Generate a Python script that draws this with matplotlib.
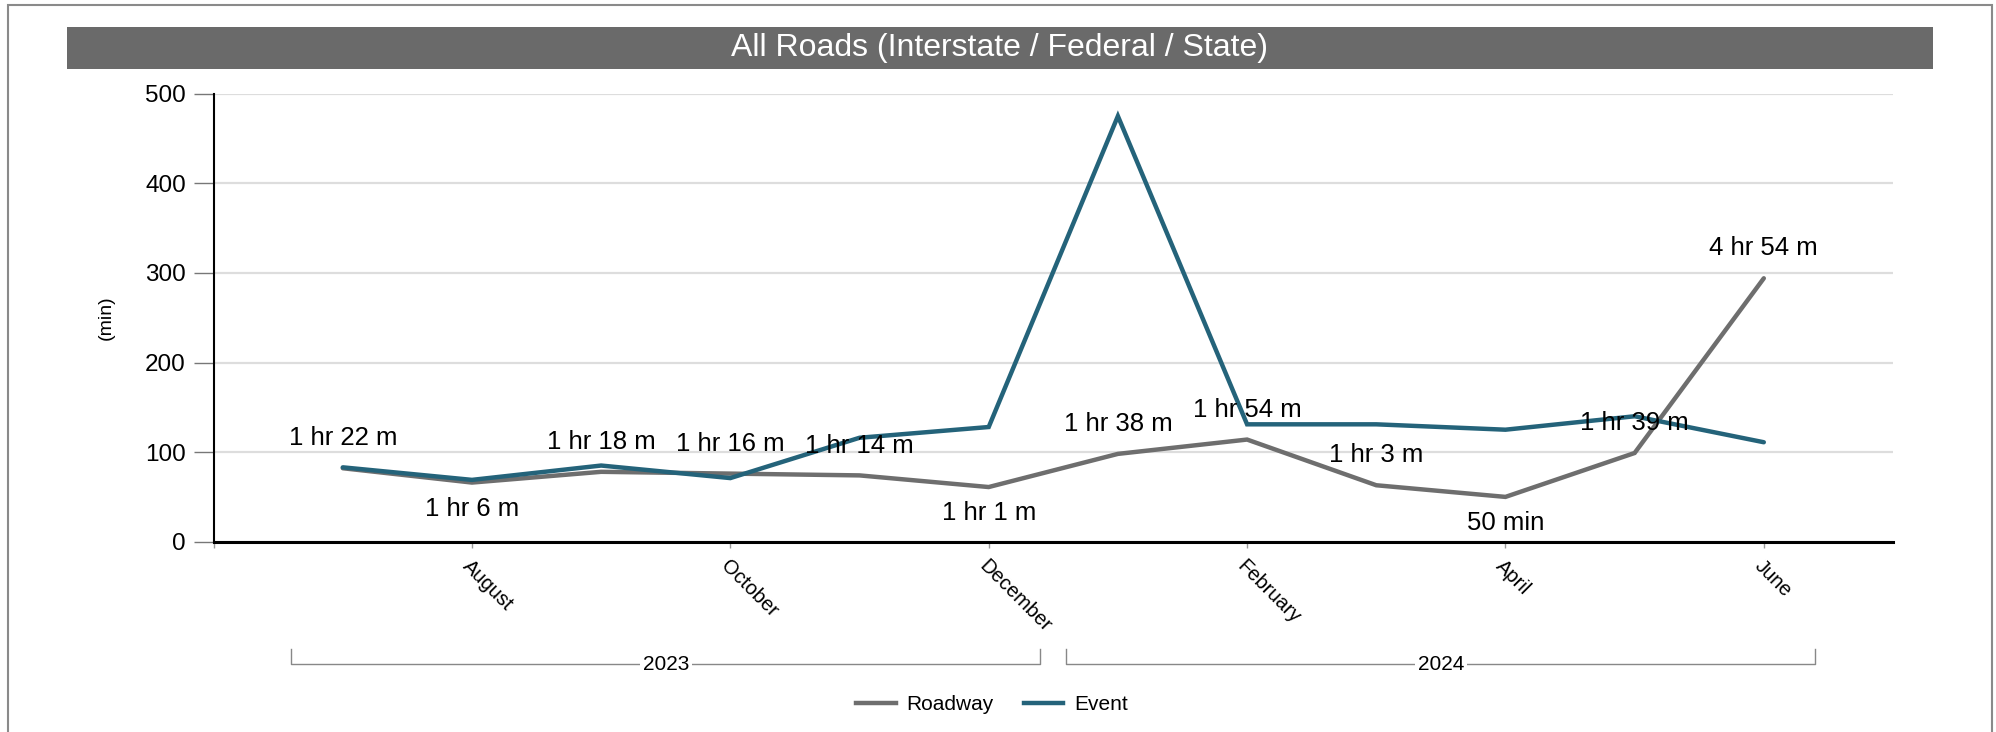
import matplotlib
matplotlib.use("Agg")
import matplotlib.pyplot as plt
from matplotlib.patches import Rectangle
from matplotlib.lines import Line2D
import matplotlib.transforms as mtrans

plt.rcParams['font.family'] = ['Liberation Sans', 'DejaVu Sans']

# ---------------- data ----------------
title = "All Roads (Interstate / Federal / State)"
months = ["July", "August", "September", "October", "November", "December",
          "January", "February", "March", "April", "May", "June"]
month_years = ["2023"] * 6 + ["2024"] * 6
roadway = [82, 66, 78, 76, 74, 61, 98, 114, 63, 50, 99, 294]
event = [83, 69, 85, 71, 116, 128, 475, 131, 131, 125, 140, 111]
series_names = ["Roadway", "Event"]
y_ticks = [0, 100, 200, 300, 400, 500]
y_label = "(min)"

ROAD_C = "#6e6e6e"
EVENT_C = "#24637a"


def fmt(m):
    h, mm = divmod(int(m), 60)
    return f"{mm} min" if h == 0 else f"{h} hr {mm} m"


W, H = 1996, 732
fig = plt.figure(figsize=(W / 100, H / 100), dpi=100)

# outer frame (bottom edge cut off)
fig.patches.append(Rectangle((8 / W, -0.05), (1992 - 8) / W, 1.05 - 5 / H,
                             transform=fig.transFigure, fill=False,
                             edgecolor="#8a8a8a", linewidth=1.5, zorder=0))
# title bar
fig.patches.append(Rectangle((67 / W, 1 - 68.7 / H), (1933 - 67) / W, 42 / H,
                             transform=fig.transFigure, facecolor="#6a6a6a",
                             edgecolor="none", zorder=1))
fig.text(1000 / W, 1 - 48 / H, title, color="white", fontsize=23,
         ha="center", va="center")

ax_l, ax_r, ax_t, ax_b = 213.6, 1893, 93.7, 541.7
ax = fig.add_axes([ax_l / W, 1 - ax_b / H, (ax_r - ax_l) / W, (ax_b - ax_t) / H])

x = list(range(len(months)))
ax.plot(x, roadway, color=ROAD_C, linewidth=3.2, solid_capstyle="round",
        solid_joinstyle="miter", zorder=3, label=series_names[0])
ax.plot(x, event, color=EVENT_C, linewidth=3.2, solid_capstyle="round",
        solid_joinstyle="miter", zorder=4, label=series_names[1])

# data labels on roadway series
for i, v in enumerate(roadway):
    prev_v = roadway[i - 1] if i > 0 else None
    next_v = roadway[i + 1] if i < len(roadway) - 1 else None
    below = prev_v is not None and next_v is not None and v < prev_v and v < next_v
    dy = -19 if below else 21.5
    ax.annotate(fmt(v), (i, v), xytext=(0, dy), textcoords="offset points",
                ha="center", va="center", fontsize=18.5, color="black", zorder=6)

ax.set_xlim(-1, len(months))
ax.set_ylim(0, 500)
ax.set_yticks(y_ticks)
ax.set_yticklabels([str(t) for t in y_ticks], fontsize=17.5)
ax.tick_params(axis="y", length=14.5, width=1, color="#777777", pad=5.5)
ax.grid(axis="y", color="#dddddd", linewidth=1.6, zorder=0)
ax.set_axisbelow(True)

tick_pos = [-1] + x[1::2]
tick_lab = [""] + months[1::2]
ax.set_xticks(tick_pos)
ax.set_xticklabels(tick_lab, rotation=-45, ha="left", va="top",
                   rotation_mode="anchor", fontsize=14.5)
ax.tick_params(axis="x", length=4.5, width=1, color="#999999", pad=6)

for s in ["top", "right"]:
    ax.spines[s].set_visible(False)
ax.spines["left"].set_linewidth(1.5)
ax.spines["left"].set_color("black")
ax.spines["bottom"].set_linewidth(2.2)
ax.spines["bottom"].set_color("black")
ax.spines["bottom"].set_zorder(5)

fig.text(106.7 / W, 1 - 317.5 / H, y_label, rotation=90, fontsize=14,
         ha="center", va="center")

# year grouping brackets
trans = mtrans.blended_transform_factory(ax.transData, ax.transAxes)
y_line = -(664 - ax_b) / (ax_b - ax_t)
y_top = -(649 - ax_b) / (ax_b - ax_t)
years = []
for yv in month_years:
    if yv not in years:
        years.append(yv)
for yr in years:
    idx = [i for i, yv in enumerate(month_years) if yv == yr]
    x0, x1 = idx[0] - 0.4, idx[-1] + 0.4
    ax.add_line(Line2D([x0, x0, x1, x1], [y_top, y_line, y_line, y_top],
                       transform=trans, color="#888888", linewidth=1,
                       clip_on=False))
    ax.text((x0 + x1) / 2, y_line, yr, transform=trans, ha="center",
            va="center", fontsize=15, clip_on=False,
            bbox=dict(facecolor="white", edgecolor="none", pad=2))

# legend
handles = [Line2D([], [], color=ROAD_C, linewidth=3.2),
           Line2D([], [], color=EVENT_C, linewidth=3.2)]
fig.legend(handles, series_names, loc="center", bbox_to_anchor=(992 / W, 1 - 705 / H),
           ncol=2, frameon=False, fontsize=15, handlelength=1.9,
           handletextpad=0.5, columnspacing=1.45)

fig.savefig("out.png", dpi=100)
